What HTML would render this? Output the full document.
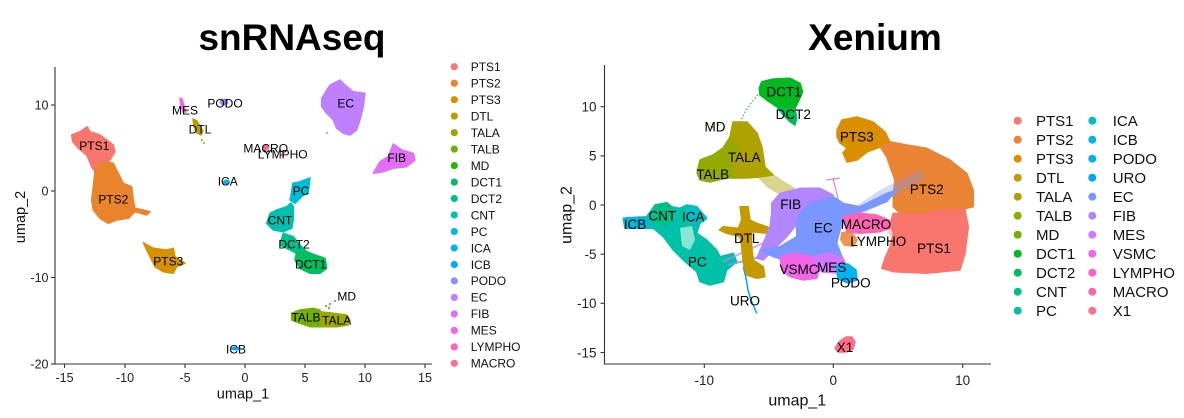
<!DOCTYPE html>
<html><head><meta charset="utf-8"><style>
html,body{margin:0;padding:0;background:#fff;}
svg{display:block;font-family:"Liberation Sans",Arial,sans-serif;}
</style></head><body>
<svg width="1184" height="418" viewBox="0 0 1184 418" xmlns="http://www.w3.org/2000/svg">
<rect width="1184" height="418" fill="#fff"/>
<!-- Titles -->
<text x="292" y="50" font-size="37" font-weight="bold" text-anchor="middle" fill="#000">snRNAseq</text>
<text x="875" y="50" font-size="37" font-weight="bold" text-anchor="middle" fill="#000">Xenium</text>

<!-- ================= LEFT PLOT ================= -->
<g stroke-linejoin="round" stroke-width="1.5">
<polygon fill="#F8766D" stroke="#F8766D" points="71.7,135 80,131.7 87.3,126.7 90,131.7 100,135 113.3,145 115,151.7 110,160 106.7,163.3 100,166.7 95,171.7 91.7,166.7 86.7,155 78.3,148.3 72.7,141.7"/>
<polygon fill="#E9842C" stroke="#E9842C" points="95,170 103.3,161.7 113.3,163.3 118.3,173.3 123.3,183.3 131.7,186.7 133.3,200 135,208.3 143.3,210 150,211.7 146.7,215 135,211.7 128.3,218.3 116.7,220 108.3,223.3 100,218.3 93.3,210 91.7,200 93.3,186.7"/>
<polygon fill="#D69100" stroke="#D69100" points="143.3,242.7 153.3,248.3 166.7,250 173.3,248.3 175,256.7 185,263.3 176.7,266.7 173.3,273.3 163.3,271.7 155,266.7 150,256.7"/>
<polygon fill="#BA9E00" stroke="#BA9E00" points="193,119 197,121 200,126 203,131 201,135 197,133 194,127"/>
<circle cx="202" cy="140" r="1" fill="#BA9E00"/><circle cx="204" cy="143" r="1" fill="#BA9E00"/>
<polygon fill="#F763E0" stroke="#F763E0" points="180,98 182,99 184,106 186,112 183,112 181,105"/>
<ellipse cx="224" cy="102" rx="4.5" ry="3.5" fill="#8494FF"/>
<ellipse cx="266" cy="147.5" rx="3.5" ry="3" fill="#FD6F89"/>
<circle cx="282" cy="155" r="1.5" fill="#FF62BF"/>
<ellipse cx="226.5" cy="182" rx="3.5" ry="2.5" fill="#00B5EE"/>
<ellipse cx="236" cy="348.5" rx="5" ry="2" fill="#00A8FF"/>
<polygon fill="#BF80FF" stroke="#BF80FF" points="321.7,98.3 330,85 340,80 345,85 353.3,91.7 365,93.3 363.3,106.7 360,120 356.7,130 350,135 343.3,133.3 336.7,128.3 333.3,120 326.7,113.3 321.7,106.7"/>
<circle cx="327" cy="133" r="1" fill="#BF80FF"/>
<polygon fill="#E26EF7" stroke="#E26EF7" points="373.3,173.3 380,161.7 388.3,156.7 393.3,144 401.7,150 413.3,153.3 415,160 406.7,166.7 393.3,168.3 383.3,171.7"/>
<polygon fill="#00BCD6" stroke="#00BCD6" points="292.7,183.3 300,181.7 310,178 308.3,191.7 301.7,196.7 295,203.3 290,200 291.7,191.7"/>
<polygon fill="#00C0B0" stroke="#00C0B0" points="276.7,210 286.7,206.7 291,203 293.3,206.7 293.3,220 291.7,228.3 283.3,231.7 273.3,230 266.7,223.3 270,213.3"/>
<polygon fill="#00C08E" stroke="#00C08E" points="283.3,233.3 293.3,236.7 300,245 306.7,251.7 296.7,253.3 286.7,248.3 280,245 281.7,238.3"/>
<polygon fill="#00BD5F" stroke="#00BD5F" points="296.7,251.7 306.7,251.7 315,255 325,258.3 326.7,268.3 320,273.3 310,273.3 300,268.3 295,260"/>
<polygon fill="#72B000" stroke="#72B000" points="291.7,313.3 300,310 313.3,308.3 320,310 321.7,326.7 310,326.7 300,323.3 291.7,320"/>
<polygon fill="#9CA700" stroke="#9CA700" points="320,311.7 333.3,313.3 346.7,315 350,320 348.3,325 336.7,326.7 321.7,326.7"/>
<circle cx="326" cy="306" r="1" fill="#2CB600"/><circle cx="330" cy="304" r="1" fill="#2CB600"/><circle cx="335" cy="301" r="1" fill="#2CB600"/><circle cx="329" cy="308" r="1" fill="#2CB600"/>
</g>
<g font-size="12" fill="#000" text-anchor="middle">
<text x="94.3" y="150">PTS1</text>
<text x="113.3" y="203.6">PTS2</text>
<text x="168.3" y="265.3">PTS3</text>
<text x="185" y="114.3">MES</text>
<text x="225" y="107.6">PODO</text>
<text x="200" y="133.6">DTL</text>
<text x="265.7" y="152.6">MACRO</text>
<text x="282.7" y="158.6">LYMPHO</text>
<text x="227.7" y="185.6">ICA</text>
<text x="301" y="195">PC</text>
<text x="280" y="224.3">CNT</text>
<text x="294" y="248.6">DCT2</text>
<text x="310.7" y="268.6">DCT1</text>
<text x="346.7" y="300.3">MD</text>
<text x="306" y="321.3">TALB</text>
<text x="336.7" y="324.6">TALA</text>
<text x="236" y="353.3">ICB</text>
<text x="345.7" y="107.6">EC</text>
<text x="396.7" y="162">FIB</text>
</g>
<g stroke="#333" stroke-width="1.1" fill="none">
<line x1="55" y1="67" x2="55" y2="364.5"/>
<line x1="54.5" y1="364" x2="432" y2="364"/>
<line x1="51" y1="105" x2="55" y2="105"/>
<line x1="51" y1="191" x2="55" y2="191"/>
<line x1="51" y1="277.5" x2="55" y2="277.5"/>
<line x1="51" y1="364" x2="55" y2="364"/>
<line x1="64.5" y1="364" x2="64.5" y2="368"/>
<line x1="125" y1="364" x2="125" y2="368"/>
<line x1="185" y1="364" x2="185" y2="368"/>
<line x1="245" y1="364" x2="245" y2="368"/>
<line x1="305" y1="364" x2="305" y2="368"/>
<line x1="365" y1="364" x2="365" y2="368"/>
<line x1="425" y1="364" x2="425" y2="368"/>
</g>
<g font-size="12.5" fill="#222">
<g text-anchor="end">
<text x="48.5" y="109.5">10</text>
<text x="48.5" y="195.5">0</text>
<text x="48.5" y="282">-10</text>
<text x="48.5" y="368.5">-20</text>
</g>
<g text-anchor="middle">
<text x="64.5" y="382">-15</text>
<text x="125" y="382">-10</text>
<text x="185" y="382">-5</text>
<text x="245" y="382">0</text>
<text x="305" y="382">5</text>
<text x="365" y="382">10</text>
<text x="425" y="382">15</text>
</g>
</g>
<text x="243" y="398.5" font-size="14.5" text-anchor="middle" fill="#111">umap_1</text>
<text transform="translate(25,217) rotate(-90)" font-size="14.5" text-anchor="middle" fill="#111">umap_2</text>

<g font-size="12" fill="#111">
<circle cx="454.3" cy="66.7" r="3.6" fill="#F8766D"/><text x="470.7" y="71">PTS1</text>
<circle cx="454.3" cy="83.2" r="3.6" fill="#E9842C"/><text x="470.7" y="87.5">PTS2</text>
<circle cx="454.3" cy="99.7" r="3.6" fill="#D69100"/><text x="470.7" y="104">PTS3</text>
<circle cx="454.3" cy="116.1" r="3.6" fill="#BA9E00"/><text x="470.7" y="120.4">DTL</text>
<circle cx="454.3" cy="132.6" r="3.6" fill="#9CA700"/><text x="470.7" y="136.9">TALA</text>
<circle cx="454.3" cy="149.1" r="3.6" fill="#72B000"/><text x="470.7" y="153.4">TALB</text>
<circle cx="454.3" cy="165.6" r="3.6" fill="#2CB600"/><text x="470.7" y="169.9">MD</text>
<circle cx="454.3" cy="182.1" r="3.6" fill="#00BD5F"/><text x="470.7" y="186.4">DCT1</text>
<circle cx="454.3" cy="198.5" r="3.6" fill="#00C08E"/><text x="470.7" y="202.8">DCT2</text>
<circle cx="454.3" cy="215" r="3.6" fill="#00C0B0"/><text x="470.7" y="219.3">CNT</text>
<circle cx="454.3" cy="231.5" r="3.6" fill="#00BCD6"/><text x="470.7" y="235.8">PC</text>
<circle cx="454.3" cy="248" r="3.6" fill="#00B5EE"/><text x="470.7" y="252.3">ICA</text>
<circle cx="454.3" cy="264.5" r="3.6" fill="#00A8FF"/><text x="470.7" y="268.8">ICB</text>
<circle cx="454.3" cy="280.9" r="3.6" fill="#8494FF"/><text x="470.7" y="285.2">PODO</text>
<circle cx="454.3" cy="297.4" r="3.6" fill="#BF80FF"/><text x="470.7" y="301.7">EC</text>
<circle cx="454.3" cy="313.9" r="3.6" fill="#E26EF7"/><text x="470.7" y="318.2">FIB</text>
<circle cx="454.3" cy="330.4" r="3.6" fill="#F763E0"/><text x="470.7" y="334.7">MES</text>
<circle cx="454.3" cy="346.9" r="3.6" fill="#FF62BF"/><text x="470.7" y="351.2">LYMPHO</text>
<circle cx="454.3" cy="363.3" r="3.6" fill="#FD6F89"/><text x="470.7" y="367.6">MACRO</text>
</g>

<!-- ================= RIGHT PLOT ================= -->
<g stroke-linejoin="round" stroke-width="1.5">
<polyline points="760,92 752,102 745,112 740,122" fill="none" stroke="#00B81F" stroke-width="1" stroke-dasharray="1.5 2"/>
<polygon fill="#AEA200" fill-opacity="0.45" stroke="none" points="757,165 770,172 782,180 795,188 792,198 780,195 768,188 758,178"/>
<!-- DCT1 -->
<polygon fill="#00B81F" stroke="#00B81F" points="759.3,88.3 761.7,81.7 773.3,79 790,78.3 800,83.3 802.7,91.7 798.3,101.7 795,108.3 786,109 776.7,106.7 766.7,100 760,95"/>
<!-- DCT2 -->
<polygon fill="#00BC59" stroke="#00BC59" points="776.7,106.7 786,109 795,108.3 796.7,118.3 795,125 790,121.7 783.3,115"/>
<!-- TALA/TALB -->
<polygon fill="#AEA200" stroke="#AEA200" points="733,122 747,122 757,133 762,147 765,167 773,175 760,177 747,178 735,178 730,160 738,150 730,137"/>
<polygon fill="#93AA00" stroke="#93AA00" points="730,137 738,150 730,160 735,178 727,178 710,182 700,180 697,173 700,160 713,155 723,148"/>
<circle cx="712" cy="127" r="1.3" fill="#6BB100"/><circle cx="718" cy="125" r="1" fill="#6BB100"/>
<!-- PTS3 -->
<polygon fill="#DB8E00" stroke="#DB8E00" points="837,130 842,120 857,117 873,122 885,132 890,142 880,147 867,152 857,160 847,162 843,153 847,148 840,143 837,137"/>
<!-- PTS2 -->
<polygon fill="#EB8335" stroke="#EB8335" points="880,146.7 890,141.7 906.7,145 926.7,148.3 950,160 966.7,173.3 973.3,190 973.3,206.7 960,210 936.7,213.3 920,216.7 903.3,216.7 893.3,206.7 893.3,193.3 895,180 890,166.7 886.7,156.7"/>
<!-- PTS1 -->
<polygon fill="#F8766D" stroke="#F8766D" points="893.3,213.3 920,215 943.3,210 965,210 968.3,226.7 965,253.3 960,270 926.7,273.3 893.3,271.7 881.7,268.3 885,258.3 890,246.7 893.3,233.3 890,223.3"/>
<polygon fill="#F8766D" fill-opacity="0.35" stroke="none" points="888,222 900,222 905,235 895,240 887,233"/>
<!-- teal cluster -->
<polygon fill="#00C1A7" stroke="#00C1A7" points="623.3,218.3 646.7,216.7 655,205 666.7,202.7 671.7,206.7 680,208.3 686.7,205 696.7,206.7 706.7,218.3 700,223.3 696.7,233.3 706.7,240 716.7,250 720,256.7 733.3,253.3 736.7,261.7 726.7,270 723.3,281.7 710,285 700,281.7 696.7,271.7 683.3,260 673.3,250 663.3,236.7 653.3,228.3 643.3,228.3 625,228.3"/>
<polygon fill="#fff" fill-opacity="0.55" stroke="none" points="680,228 692,226 695,240 690,250 682,246"/>
<polygon fill="#00BADE" stroke="#00BADE" points="623.3,218.3 640,217 647,218 648,228 625,228.3"/>
<polygon fill="#00C086" stroke="#00C086" points="655,205 666.7,202.7 671.7,206.7 672,220 665,226 657,222 652,216"/>
<polygon fill="#00BFC4" stroke="#00BFC4" points="686.7,205 696.7,206.7 706.7,218.3 700,223 690,222 685,214"/>
<polyline points="743.3,266.7 746,278 748,290 751,300 756.7,313.3" fill="none" stroke="#00A5FF" stroke-width="1.5"/>
<line x1="795" y1="248" x2="728" y2="265" stroke="#7997FF" stroke-width="2" stroke-opacity="0.8"/>
<line x1="770" y1="240" x2="722" y2="262" stroke="#B186FF" stroke-width="2" stroke-opacity="0.7"/>
<polygon fill="#7997FF" fill-opacity="0.35" stroke="none" points="856,206 880,190 900,180 920,170 925,178 900,192 880,205 862,214"/>
<line x1="833" y1="178" x2="840" y2="207" stroke="#FF63B4" stroke-width="1"/>
<line x1="826" y1="180" x2="840" y2="178" stroke="#FF63B4" stroke-width="1"/>
<!-- DTL -->
<polygon fill="#C59900" stroke="#C59900" points="740,206.7 748.3,206.7 750,220 756.7,223.3 766.7,226.7 773.3,230 766.7,233.3 751.7,231.7 751.7,246.7 753.3,260 763.3,266.7 765,276.7 756.7,278.3 746.7,275 743.3,263.3 741.7,246.7 740,236.7 726.7,233.3 719.3,230 723.3,226.7 738.3,228.3 741.7,220"/>
<!-- FIB -->
<polygon fill="#B186FF" stroke="#B186FF" points="771.7,203.3 780,193.3 800,188.3 820,188.3 833.3,195 826.7,200 810,203.3 800,213.3 795,226.7 786.7,236.7 773.3,250 763.3,260 756.7,258.3 763.3,243.3 770,226.7 771.7,213.3"/>
<!-- EC -->
<polygon fill="#7997FF" stroke="#7997FF" points="800,213.3 810,203.3 833.3,196.7 843.3,203.3 860,206.7 886.7,193.3 896.7,190 886.7,201.7 856.7,213.3 846.7,216.7 840,230 836.7,243.3 843.3,260 850,270 843.3,276.7 833.3,270 826.7,260 820,256.7 806.7,260 793.3,263.3 773.3,256.7 760,250 780,246.7 796.7,236.7 796.7,223.3"/>
<polygon fill="#FF63B4" stroke="#FF63B4" points="843.3,216.7 860,213.3 876.7,215 888.3,220 890,228.3 880,231.7 860,233.3 846.7,231.7"/>
<polygon fill="#EB8335" fill-opacity="0.85" stroke="none" points="841,232 852,231 858,240 854,247 844,246 840,240"/>
<polygon fill="#F166E8" stroke="#F166E8" points="780,256.7 793.3,253.3 813.3,256.7 820,266.7 816.7,278.3 803.3,280 790,276.7 781.7,270"/>
<polygon fill="#D277FF" stroke="#D277FF" points="815,256 830,253 843,258 847,268 838,273 822,272 815,265"/>
<polygon fill="#00B3F1" stroke="#00B3F1" points="836,266 848,264 856,270 857,280 848,283 838,279"/>
<polygon fill="#FE6E8A" stroke="#FE6E8A" points="835,348 840,341 846,337 852,337 855,342 853,349 846,352 838,352"/>
</g>
<g font-size="13.5" fill="#000" text-anchor="middle">
<text x="784" y="96.5">DCT1</text>
<text x="793.3" y="118.8">DCT2</text>
<text x="715" y="131.5">MD</text>
<text x="744.3" y="162.1">TALA</text>
<text x="712.7" y="179.1">TALB</text>
<text x="856.7" y="141.5">PTS3</text>
<text x="926.7" y="194.1">PTS2</text>
<text x="934" y="253.1">PTS1</text>
<text x="635" y="228.8">ICB</text>
<text x="662.3" y="220.5">CNT</text>
<text x="693.3" y="221.5">ICA</text>
<text x="697.3" y="266.5">PC</text>
<text x="746.7" y="243.1">DTL</text>
<text x="790.7" y="209.1">FIB</text>
<text x="823.3" y="232.5">EC</text>
<text x="866" y="229.1">MACRO</text>
<text x="878.3" y="245.8">LYMPHO</text>
<text x="799" y="273.8">VSMC</text>
<text x="831.7" y="272.1">MES</text>
<text x="850.7" y="287.5">PODO</text>
<text x="745" y="305.5">URO</text>
<text x="845" y="352.1">X1</text>
</g>
<g stroke="#333" stroke-width="1.1" fill="none">
<line x1="604.5" y1="65" x2="604.5" y2="364.5"/>
<line x1="604" y1="364" x2="991" y2="364"/>
<line x1="600.5" y1="106.7" x2="604.5" y2="106.7"/>
<line x1="600.5" y1="155.9" x2="604.5" y2="155.9"/>
<line x1="600.5" y1="205" x2="604.5" y2="205"/>
<line x1="600.5" y1="254.2" x2="604.5" y2="254.2"/>
<line x1="600.5" y1="303.3" x2="604.5" y2="303.3"/>
<line x1="600.5" y1="352.5" x2="604.5" y2="352.5"/>
<line x1="704.3" y1="364" x2="704.3" y2="368"/>
<line x1="833.3" y1="364" x2="833.3" y2="368"/>
<line x1="962.7" y1="364" x2="962.7" y2="368"/>
</g>
<g font-size="13.5" fill="#222">
<g text-anchor="end">
<text x="596.5" y="111.5">10</text>
<text x="596.5" y="160.7">5</text>
<text x="596.5" y="209.8">0</text>
<text x="596.5" y="259">-5</text>
<text x="596.5" y="308.1">-10</text>
<text x="596.5" y="357.3">-15</text>
</g>
<g text-anchor="middle">
<text x="704.3" y="385">-10</text>
<text x="833.3" y="385">0</text>
<text x="962.7" y="385">10</text>
</g>
</g>
<text x="797.3" y="405.5" font-size="16" text-anchor="middle" fill="#111">umap_1</text>
<text transform="translate(571.5,215) rotate(-90)" font-size="16" text-anchor="middle" fill="#111">umap_2</text>

<g font-size="15" fill="#111">
<circle cx="1017.7" cy="120.7" r="4" fill="#F8766D"/><text x="1036" y="126.1">PTS1</text>
<circle cx="1017.7" cy="139.7" r="4" fill="#EB8335"/><text x="1036" y="145.1">PTS2</text>
<circle cx="1017.7" cy="158.7" r="4" fill="#DB8E00"/><text x="1036" y="164.1">PTS3</text>
<circle cx="1017.7" cy="177.7" r="4" fill="#C59900"/><text x="1036" y="183.1">DTL</text>
<circle cx="1017.7" cy="196.7" r="4" fill="#AEA200"/><text x="1036" y="202.1">TALA</text>
<circle cx="1017.7" cy="215.7" r="4" fill="#93AA00"/><text x="1036" y="221.1">TALB</text>
<circle cx="1017.7" cy="234.7" r="4" fill="#6BB100"/><text x="1036" y="240.1">MD</text>
<circle cx="1017.7" cy="253.7" r="4" fill="#00B81F"/><text x="1036" y="259.1">DCT1</text>
<circle cx="1017.7" cy="272.7" r="4" fill="#00BC59"/><text x="1036" y="278.1">DCT2</text>
<circle cx="1017.7" cy="291.7" r="4" fill="#00C086"/><text x="1036" y="297.1">CNT</text>
<circle cx="1017.7" cy="310.7" r="4" fill="#00C1A7"/><text x="1036" y="316.1">PC</text>
<circle cx="1092.3" cy="120.7" r="4" fill="#00BFC4"/><text x="1112.7" y="126.1">ICA</text>
<circle cx="1092.3" cy="139.7" r="4" fill="#00BADE"/><text x="1112.7" y="145.1">ICB</text>
<circle cx="1092.3" cy="158.7" r="4" fill="#00B3F1"/><text x="1112.7" y="164.1">PODO</text>
<circle cx="1092.3" cy="177.7" r="4" fill="#00A5FF"/><text x="1112.7" y="183.1">URO</text>
<circle cx="1092.3" cy="196.7" r="4" fill="#7997FF"/><text x="1112.7" y="202.1">EC</text>
<circle cx="1092.3" cy="215.7" r="4" fill="#B186FF"/><text x="1112.7" y="221.1">FIB</text>
<circle cx="1092.3" cy="234.7" r="4" fill="#D277FF"/><text x="1112.7" y="240.1">MES</text>
<circle cx="1092.3" cy="253.7" r="4" fill="#F166E8"/><text x="1112.7" y="259.1">VSMC</text>
<circle cx="1092.3" cy="272.7" r="4" fill="#FD61D1"/><text x="1112.7" y="278.1">LYMPHO</text>
<circle cx="1092.3" cy="291.7" r="4" fill="#FF63B4"/><text x="1112.7" y="297.1">MACRO</text>
<circle cx="1092.3" cy="310.7" r="4" fill="#FE6E8A"/><text x="1112.7" y="316.1">X1</text>
</g>
</svg>
</body></html>
